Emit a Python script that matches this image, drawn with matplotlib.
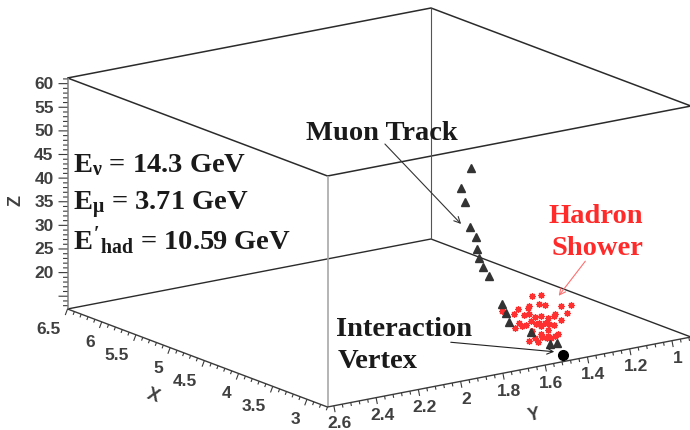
import numpy as np
import matplotlib.pyplot as plt
from matplotlib.patches import FancyArrowPatch
from matplotlib.transforms import ScaledTranslation

plt.rcParams['mathtext.fontset'] = 'custom'
plt.rcParams['mathtext.rm'] = 'Liberation Serif:bold'
plt.rcParams['mathtext.it'] = 'Liberation Serif:bold'
plt.rcParams['mathtext.bf'] = 'Liberation Serif:bold'

# detector region shown
x_range = (2.7, 6.5)
y_range = (0.91, 2.63)
z_range = (12.3, 61.2)

x_ticks = [3.0, 3.5, 4.0, 4.5, 5.0, 5.5, 6.0, 6.5]
x_labels = ['3', '3.5', '4', '4.5', '5', '5.5', '6', '6.5']
y_ticks = [1.0, 1.2, 1.4, 1.6, 1.8, 2.0, 2.2, 2.4, 2.6]
y_labels = ['1', '1.2', '1.4', '1.6', '1.8', '2', '2.2', '2.4', '2.6']
z_ticks = [20, 25, 30, 35, 40, 45, 50, 55, 60]
z_labels = ['20', '25', '30', '35', '40', '45', '50', '55', '60']

# reconstructed event
vertex = (2.78, 1.49, 13.0)

muon_x = [2.81, 2.85, 2.94, 3.05, 3.06, 3.08, 3.15, 3.17, 3.20, 3.20, 3.21, 3.24, 3.26, 3.28, 3.23]
muon_y = [1.51, 1.53, 1.59, 1.66, 1.67, 1.68, 1.72, 1.74, 1.75, 1.76, 1.76, 1.78, 1.80, 1.81, 1.78]
muon_z = [15.7, 15.4, 17.9, 20.1, 22.0, 23.9, 29.7, 31.6, 33.6, 35.6, 38.0, 40.2, 45.5, 48.4, 52.6]

had_x = [3.04, 2.79, 3.01, 2.85, 2.98, 2.86, 2.90, 2.85, 2.78, 2.91, 3.06, 2.79, 2.88, 2.73, 2.97,
         2.72, 2.88, 3.03, 2.93, 2.84, 3.01, 2.90, 2.89, 3.08, 2.79, 2.96, 2.75, 2.91, 2.85, 3.00,
         2.77, 2.95, 3.03, 2.90, 2.71, 3.04, 2.79, 2.97, 2.93, 2.80, 2.94, 2.77, 3.02]
had_y = [1.55, 1.59, 1.53, 1.63, 1.51, 1.63, 1.46, 1.43, 1.78, 1.66, 1.56, 1.59, 1.44, 1.55, 1.50,
         1.74, 1.64, 1.54, 1.48, 1.62, 1.53, 1.46, 1.65, 1.57, 1.59, 1.50, 1.57, 1.47, 1.63, 1.52,
         1.57, 1.49, 1.54, 1.66, 1.74, 1.55, 1.59, 1.50, 1.48, 1.60, 1.48, 1.58, 1.54]
had_z = [24.6, 26.5, 22.9, 24.2, 22.7, 23.7, 22.5, 22.7, 24.8, 23.5, 20.8, 22.2, 21.0, 22.0, 19.9,
         24.2, 22.2, 20.1, 20.8, 21.0, 18.9, 19.5, 19.9, 18.4, 19.9, 18.7, 19.3, 16.7, 16.9, 15.9,
         17.4, 15.7, 15.7, 20.6, 21.2, 17.2, 18.2, 16.1, 16.1, 16.7, 18.4, 20.6, 18.7]

W, H = 690, 431
fig = plt.figure(figsize=(W / 100, H / 100), dpi=100)

# large square 3d axes, centred on the box
side = 800
half = 0.51351 * side
ax = fig.add_axes([(379.25 - half) / W, (222.5 - half) / H, side / W, side / H],
                  projection='3d')
ax.set_proj_type('ortho')
ax.view_init(elev=15.63, azim=144.45)
ax.set_box_aspect((447.2, 446.8, 239.9), zoom=656.3 / side)
ax.set_xlim(*x_range)
ax.set_ylim(*y_range)
ax.set_zlim(*z_range)
ax.set_axis_off()
ax.computed_zorder = False

x0, x1 = x_range
y0, y1 = y_range
z0, z1 = z_range


def seg(pts, color, lw, z=1):
    pts = np.array(pts, dtype=float)
    ax.plot(pts[:, 0], pts[:, 1], pts[:, 2], color=color, lw=lw, zorder=z,
            solid_capstyle='butt', clip_on=False)


# frame of the box
dark = '#2b2b2b'
seg([(x1, y1, z1), (x0, y1, z1), (x0, y0, z1), (x1, y0, z1), (x1, y1, z1)], dark, 1.1)
seg([(x1, y1, z0), (x1, y0, z0), (x0, y0, z0)], dark, 1.0)
seg([(x1, y0, z0), (x1, y0, z1)], '#555555', 0.8)
seg([(x0, y1, z0), (x0, y1, z1)], '#a8a8a8', 1.2)
seg([(x0, y0, z0), (x0, y0, z1)], '#a8a8a8', 1.2)
seg([(x1, y1, z0), (x1, y1, z1)], '#8a8a8a', 1.2)
seg([(x1, y1, z0), (x0, y1, z0), (x0, y0, z0)], '#3a3a3a', 1.0)

# tick marks (step per screen pixel along the stroke)
z_dir = np.array([0.004976, 0.003121, 0.0])
x_dir = np.array([0.0, 0.001656, -0.1841])
y_dir = np.array([-0.002762, 0.0, -0.1930])

for v in np.arange(13, 62, 1):
    base = np.array([x1, y1, v])
    seg([base, base + z_dir * (9 if v % 5 == 0 else 4.5)], '#3a3a3a', 0.8)
for v in np.arange(2.7, 6.55, 0.1):
    base = np.array([v, y1, z0])
    major = abs(v * 2 - round(v * 2)) < 1e-6
    seg([base, base + x_dir * (6.5 if major else 3.5)], '#3a3a3a', 0.8)
for v in np.arange(0.92, 2.63, 0.04):
    base = np.array([x0, v, z0])
    major = abs(v * 5 - round(v * 5)) < 1e-6
    seg([base, base + y_dir * (6.5 if major else 3.5)], '#3a3a3a', 0.8)

# labels go through the same projection, as plain 2d texts
M = ax.get_proj()


def proj(x, y, z):
    v = M @ np.array([x, y, z, 1.0])
    return v[0] / v[3], v[1] / v[3]


def label(x, y, z, s, dx, dy, **kw):
    px, py = proj(x, y, z)
    tr = ax.transData + ScaledTranslation(dx / 100, -dy / 100, fig.dpi_scale_trans)
    fig.text(px, py, s, transform=tr, **kw)


tick_font = dict(family='Liberation Sans', weight='bold', size=12.5, color='#404040')
for v, s in zip(z_ticks, z_labels):
    label(x1, y1, v, s, -14, 0, ha='right', va='center', **tick_font)
for v, s in zip(x_ticks, x_labels):
    label(v, y1, z0, s, -7, 19.5, ha='right', va='center', **tick_font)
for v, s in zip(y_ticks, y_labels):
    label(x0, v, z0, s, 6, 17, ha='center', va='center', **tick_font)

title_font = dict(family='Liberation Sans', weight='bold', size=13, color='#404040')
label(x1, y1, 35.5, 'Z', -52, 0, rotation=90, ha='center', va='center', **title_font)
label(4.55, y1, z0, 'X', -48, 36, rotation=-20.5, ha='center', va='center', **title_font)
label(x0, 1.8, z0, 'Y', 31, 41, rotation=11, ha='center', va='center', **title_font)

# hits
ax.plot(had_x, had_y, had_z, ls='none', marker=(8, 2, 0), ms=4.8, mew=0.9,
        color='#ff3030', zorder=4)
ax.plot(muon_x, muon_y, muon_z, ls='none', marker='^', ms=6, color='#333333', zorder=5)
ax.plot([vertex[0]], [vertex[1]], [vertex[2]], ls='none', marker='o', ms=7,
        color='black', zorder=6)

# annotations
serif = dict(family='Liberation Serif', weight='bold', size=20.5)


def fx(x):
    return x / W


def fy(y):
    return 1 - y / H


fig.text(fx(73), fy(172), r'$E_{\nu}$ = 14.3 GeV', color='#1a1a1a', va='baseline', **serif)
fig.text(fx(73), fy(210), r'$E_{\mu}$ = 3.71 GeV', color='#1a1a1a', va='baseline', **serif)
fig.text(fx(73), fy(250), r"$E'_{\rm had}$ = 10.59 GeV", color='#1a1a1a', va='baseline', **serif)

fig.text(fx(306), fy(140), 'Muon Track', color='#1a1a1a', va='baseline', **serif)
fig.text(fx(596), fy(223), 'Hadron', color='#ff2a2a', ha='center', va='baseline', **serif)
fig.text(fx(597), fy(255), 'Shower', color='#ff2a2a', ha='center', va='baseline', **serif)
fig.text(fx(336), fy(336), 'Interaction', color='#1a1a1a', va='baseline', **serif)
fig.text(fx(338), fy(368), 'Vertex', color='#1a1a1a', va='baseline', **serif)

arrows = [((383, 143), (463, 227), '#333333'),
          ((587, 260), (557, 299), '#ff6f6f'),
          ((448, 343), (557, 353), '#222222')]
for (xa, ya), (xb, yb), c in arrows:
    fig.add_artist(FancyArrowPatch((fx(xa), fy(ya)), (fx(xb), fy(yb)),
                                   transform=fig.transFigure, arrowstyle='->',
                                   mutation_scale=11, lw=0.8, color=c))

fig.savefig('out.png', dpi=100)
